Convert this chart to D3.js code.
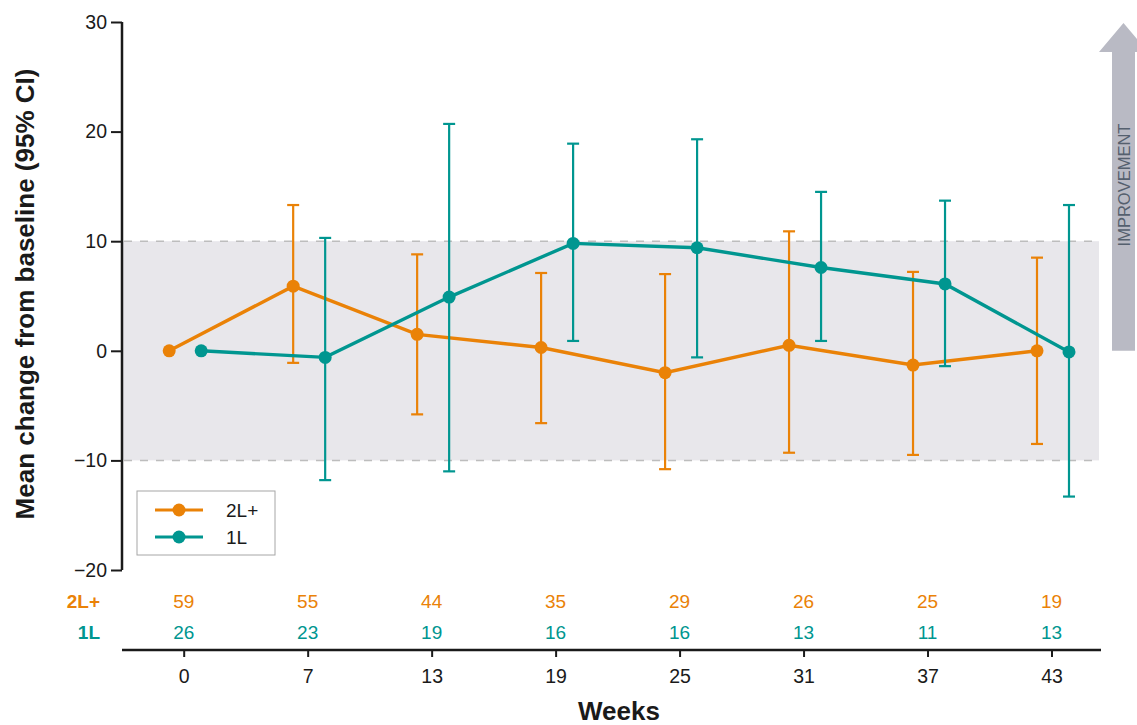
<!DOCTYPE html>
<html>
<head>
<meta charset="utf-8">
<script src="https://cdn.jsdelivr.net/npm/d3@7"></script>
<style>
  body { margin: 0; background: #fff; }
  text { font-family: "Liberation Sans", Arial, sans-serif; }
</style>
</head>
<body>
<svg id="chart" width="1137" height="725"></svg>
<script>
// week labels and numbers at risk
const weeks = ["0", "7", "13", "19", "25", "31", "37", "43"];
const atRisk2L = [59, 55, 44, 35, 29, 26, 25, 19];
const atRisk1L = [26, 23, 19, 16, 16, 13, 11, 13];

// mean change and 95% CI (null = no bar)
const mean2L = [0, 5.9, 1.5, 0.3, -2.0, 0.5, -1.3, 0.0];
const lo2L = [null, -1.1, -5.8, -6.6, -10.8, -9.3, -9.5, -8.5];
const hi2L = [null, 13.3, 8.8, 7.1, 7.0, 10.9, 7.2, 8.5];

const mean1L = [0, -0.6, 4.9, 9.8, 9.4, 7.6, 6.1, -0.1];
const lo1L = [null, -11.8, -11.0, 0.9, -0.6, 0.9, -1.4, -13.3];
const hi1L = [null, 10.3, 20.7, 18.9, 19.3, 14.5, 13.7, 13.3];

const yTicks = [-20, -10, 0, 10, 20, 30];
const bandRange = [-10, 10];

const orange = "#ea8207";
const teal = "#009690";

const svg = d3.select("#chart");
const plotLeft = 122, plotRight = 1099, plotTop = 22, plotBottom = 570;

const y = d3.scaleLinear().domain([-20, 30]).range([plotBottom, plotTop]);
const x = d3.scalePoint().domain(weeks).range([183.7, 1051.5]);

const series = [
  { name: "2L+", color: orange, off: -14.5, mean: mean2L, lo: lo2L, hi: hi2L },
  { name: "1L", color: teal, off: 17.5, mean: mean1L, lo: lo1L, hi: hi1L }
];

// shaded band
svg.append("rect")
  .attr("x", plotLeft).attr("width", plotRight - plotLeft)
  .attr("y", y(bandRange[1])).attr("height", y(bandRange[0]) - y(bandRange[1]))
  .attr("fill", "#e8e7eb");

svg.selectAll(".band-line").data(bandRange).enter().append("line")
  .attr("x1", plotLeft + 2).attr("x2", plotRight)
  .attr("y1", d => y(d)).attr("y2", d => y(d))
  .attr("stroke", "#bdbdbd").attr("stroke-width", 1.5)
  .attr("stroke-dasharray", "8,8");

// improvement arrow
const arrow = svg.append("g");
arrow.append("path")
  .attr("d", `M1112,${y(0)} L1112,52 L1099,52 L1123.5,23 L1148,52 L1135,52 L1135,${y(0)} Z`)
  .attr("fill", "#b9bac4");
arrow.append("text")
  .attr("transform", "translate(1130,185) rotate(-90)")
  .attr("text-anchor", "middle")
  .attr("font-size", 16.5)
  .attr("fill", "#55606e")
  .text("IMPROVEMENT");

// y axis
const yAxis = svg.append("g")
  .attr("transform", `translate(${plotLeft},0)`)
  .call(d3.axisLeft(y).tickValues(yTicks).tickSize(11).tickPadding(4));
yAxis.select(".domain").attr("stroke", "#1a1a1a").attr("stroke-width", 2.5)
  .attr("d", `M0,${plotTop}V${plotBottom}`);
yAxis.selectAll(".tick line").attr("stroke", "#1a1a1a").attr("stroke-width", 2);
yAxis.selectAll(".tick text").attr("font-size", 19.5).attr("fill", "#1a1a1a")
  .attr("font-family", "Liberation Sans, Arial, sans-serif")
  .text(d => d < 0 ? "\u2212" + Math.abs(d) : d);

svg.append("text")
  .attr("transform", "translate(34,294) rotate(-90)")
  .attr("text-anchor", "middle")
  .attr("font-size", 26).attr("font-weight", "bold").attr("fill", "#1a1a1a")
  .text("Mean change from baseline (95% CI)");

// x axis
const xAxisY = 650;
const xAxis = svg.append("g")
  .attr("transform", `translate(0,${xAxisY})`)
  .call(d3.axisBottom(x).tickSize(7).tickPadding(8));
xAxis.select(".domain").attr("stroke", "#1a1a1a").attr("stroke-width", 2.5)
  .attr("d", `M${plotLeft},0H1101`);
xAxis.selectAll(".tick line").attr("stroke", "#1a1a1a").attr("stroke-width", 2);
xAxis.selectAll(".tick text").attr("font-size", 19.5).attr("fill", "#1a1a1a")
  .attr("font-family", "Liberation Sans, Arial, sans-serif")
  .attr("dy", null).attr("y", 33);

svg.append("text")
  .attr("x", 619).attr("y", 720)
  .attr("text-anchor", "middle")
  .attr("font-size", 26).attr("font-weight", "bold").attr("fill", "#1a1a1a")
  .text("Weeks");

// numbers at risk
const riskRows = [
  { name: "2L+", color: orange, vals: atRisk2L, y: 608 },
  { name: "1L", color: teal, vals: atRisk1L, y: 639 }
];
riskRows.forEach(r => {
  svg.append("text")
    .attr("x", 100).attr("y", r.y)
    .attr("text-anchor", "end")
    .attr("font-size", 19).attr("font-weight", "bold").attr("fill", r.color)
    .text(r.name);
  svg.selectAll(null).data(r.vals).enter().append("text")
    .attr("x", (d, i) => x(weeks[i]))
    .attr("y", r.y)
    .attr("text-anchor", "middle")
    .attr("font-size", 19).attr("fill", r.color)
    .text(d => d);
});

// series: error bars, lines, points
const line = d3.line();
series.forEach(s => {
  const g = svg.append("g");
  const bars = weeks.map((w, i) => ({ x: x(w) + s.off, lo: s.lo[i], hi: s.hi[i] }))
    .filter(d => d.lo !== null);
  bars.forEach(b => {
    g.append("line")
      .attr("x1", b.x).attr("x2", b.x)
      .attr("y1", y(b.lo)).attr("y2", y(b.hi))
      .attr("stroke", s.color).attr("stroke-width", 2.2);
    [b.lo, b.hi].forEach(v => {
      g.append("line")
        .attr("x1", b.x - 6).attr("x2", b.x + 6)
        .attr("y1", y(v)).attr("y2", y(v))
        .attr("stroke", s.color).attr("stroke-width", 2.2);
    });
  });
  const pts = weeks.map((w, i) => [x(w) + s.off, y(s.mean[i])]);
  g.append("path")
    .attr("d", line(pts))
    .attr("fill", "none").attr("stroke", s.color).attr("stroke-width", 3.4);
  g.selectAll("circle").data(pts).enter().append("circle")
    .attr("cx", d => d[0]).attr("cy", d => d[1]).attr("r", 6.5)
    .attr("fill", s.color);
});

// legend
const lg = svg.append("g").attr("transform", "translate(137,491)");
lg.append("rect").attr("width", 138).attr("height", 64)
  .attr("fill", "#fff").attr("stroke", "#a6a6a6").attr("stroke-width", 1);
series.forEach((s, i) => {
  const yy = 19 + i * 27;
  lg.append("line").attr("x1", 18).attr("x2", 66).attr("y1", yy).attr("y2", yy)
    .attr("stroke", s.color).attr("stroke-width", 3);
  lg.append("circle").attr("cx", 42).attr("cy", yy).attr("r", 6.5).attr("fill", s.color);
  lg.append("text").attr("x", 89).attr("y", yy + 7)
    .attr("font-size", 19).attr("fill", "#1a1a1a").text(s.name);
});
</script>
</body>
</html>
